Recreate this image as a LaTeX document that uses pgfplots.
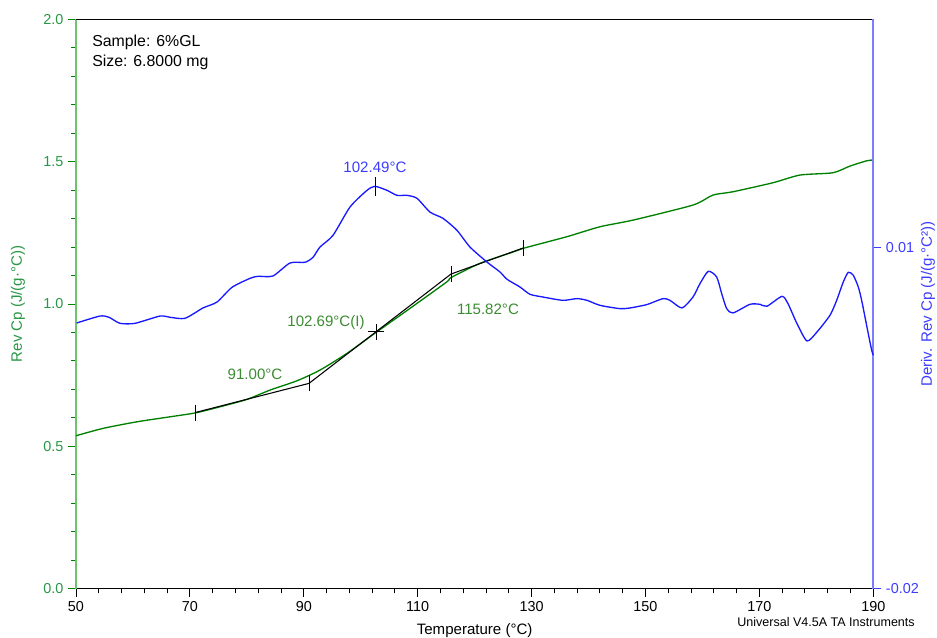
\documentclass[border=0pt]{standalone}
\usepackage{pgfplots}
\pgfplotsset{compat=1.18}
\usepackage{fontspec}
\setmainfont{Liberation Sans}
\definecolor{cpgreen}{RGB}{0,128,0}
\definecolor{spinegreen}{RGB}{110,195,110}
\definecolor{labgreen}{RGB}{40,150,70}
\definecolor{annogreen}{RGB}{60,140,50}
\definecolor{dblue}{RGB}{25,25,255}
\definecolor{spineblue}{RGB}{125,125,255}
\definecolor{labblue}{RGB}{60,60,255}
\newcommand{\fa}{\fontsize{11.3}{13}\selectfont}
\newcommand{\ft}{\fontsize{10.8}{12}\selectfont}
\begin{document}
\begin{tikzpicture}
\useasboundingbox (-57pt,-36.4pt) rectangle (645.8pt,441.5pt);
\begin{axis}[
  scale only axis, width=598pt, height=427pt,
  at={(0,0)}, anchor=south west,
  xmin=50, xmax=190, ymin=0, ymax=2,
  axis x line*=bottom, axis y line*=left,
  clip=false,
  xtick={50,70,...,190}, minor x tick num=4,
  ytick={0,0.5,1,1.5,2}, minor y tick num=4,
  tick align=outside,
  major tick length=6pt, minor tick length=3.5pt,
  /pgf/number format/assume math mode=true,
  x axis line style={black, line width=0.9pt},
  y axis line style={spinegreen, line width=1.4pt},
  x tick style={black, line width=0.7pt},
  y tick style={cpgreen, line width=0.7pt},
  xticklabel style={font=\ft, black},
  yticklabel style={font=\ft, labgreen, /pgf/number format/.cd, fixed, fixed zerofill, precision=1},
  xlabel={Temperature (°C)},
  xlabel style={font=\fa, at={(axis description cs:0.5,-0.0729)}, anchor=center},
  ylabel={Rev Cp (J/(g·°C))},
  ylabel style={font=\fa, labgreen, at={(axis description cs:-0.0727,0.5)}, anchor=center, rotate=0},
]
\draw[black, line width=0.9pt] (rel axis cs:0,1) -- (rel axis cs:1,1);
% Rev Cp
\addplot[cpgreen, line width=1pt, smooth, tension=0.4] coordinates {
(50,0.537) (54.74,0.5629) (60.71,0.5861) (66.51,0.6036) (71.07,0.6177)
(75.29,0.6388) (80.03,0.6648) (84.07,0.6975) (88.81,0.7302) (92.84,0.7677)
(97.58,0.8264) (102.85,0.9023) (108.65,0.9845) (115.14,1.0780) (115.85,1.0928)
(120.94,1.1427) (126.73,1.1824) (128.49,1.1953) (136.16,1.2361) (142.01,1.2713)
(147.86,1.2948) (158.34,1.3475) (161.85,1.3826) (165.36,1.3942) (172.39,1.4259)
(177.13,1.4529) (182.92,1.4610) (185.91,1.4845) (188.89,1.5032) (190,1.5056)
};
% Tg construction
\addplot[black, line width=0.8pt] coordinates {
(70.90,0.6184) (90.91,0.7210) (115.85,1.1051) (128.49,1.1964)
};
\addplot[black, only marks, mark=|, mark size=6pt, mark options={line width=0.7pt}] coordinates {
(70.90,0.6184) (90.91,0.7210) (115.85,1.1051) (128.49,1.1964)
};
\addplot[black, only marks, mark=+, mark size=6pt, mark options={line width=0.8pt}] coordinates {
(102.69,0.9024)
};
\node[font=\fa, annogreen] at (axis cs:81.43,0.7537) {91.00°C};
\node[font=\fa, annogreen] at (axis cs:93.90,0.9329) {102.69°C(I)};
\node[font=\fa, annogreen] at (axis cs:122.34,0.9821) {115.82°C};
\node[font=\fa, labblue] at (axis cs:102.50,1.481) {102.49°C};
\node[font=\fontsize{11.9}{15}\selectfont, anchor=north west, align=left, inner sep=0pt, black] at (axis description cs:0.0201,0.9724) {Sample: 6\%GL\\Size: 6.8000 mg};
\node[font=\fontsize{9.4}{11}\selectfont, anchor=east, inner sep=0pt, black] at (axis description cs:1.0523,-0.0589) {Universal V4.5A TA Instruments};
\end{axis}
\begin{axis}[
  scale only axis, width=598pt, height=427pt,
  at={(0,0)}, anchor=south west,
  xmin=50, xmax=190, ymin=-0.02, ymax=0.03,
  axis x line=none, axis y line*=right,
  clip=false,
  ytick={-0.02,0.01}, scaled y ticks=false,
  tick align=outside,
  major tick length=6pt,
  /pgf/number format/assume math mode=true,
  y axis line style={spineblue, line width=1.4pt},
  y tick style={labblue, line width=0.7pt},
  yticklabel style={font=\ft, labblue, /pgf/number format/.cd, fixed, fixed zerofill, precision=2},
  ylabel={Deriv. Rev Cp (J/(g·°C²))},
  ylabel style={font=\fa, labblue, at={(axis description cs:1.0686,0.5)}, anchor=center, rotate=0},
]
\addplot[dblue, line width=1pt, smooth, tension=0.4] coordinates {
(50.12,0.00333) (54.21,0.00394) (55.79,0.00383) (57.73,0.00330) (60.36,0.00330)
(64.75,0.00394) (66.51,0.00383) (69.14,0.00374) (72.30,0.00465) (74.76,0.00517)
(77.39,0.00646) (80.55,0.00725) (81.96,0.00743) (84.59,0.00746) (87.58,0.00860)
(90.21,0.00866) (91.62,0.00910) (92.84,0.01000) (95.13,0.01103) (98.11,0.01351)
(101.10,0.01498) (102.50,0.01533) (104.61,0.01498) (106.37,0.01454) (108.12,0.01454)
(109.88,0.01428) (112.16,0.01307) (114.44,0.01252) (116.90,0.01147) (119.18,0.01000)
(122.17,0.00868) (124.45,0.00781) (125.68,0.00717) (127.96,0.00649) (129.72,0.00585)
(132.00,0.00561) (135.51,0.00532) (137.97,0.00547) (139.73,0.00532) (142.01,0.00488)
(145.52,0.00459) (147.28,0.00465) (150.26,0.00495) (153.07,0.00547) (154.30,0.00532)
(156.41,0.00465) (158.34,0.00561) (159.57,0.00679) (161.03,0.00787) (162.50,0.00737)
(163.38,0.00591) (164.26,0.00459) (165.36,0.00421) (168.35,0.00497) (170.10,0.00497)
(171.33,0.00480) (173.97,0.00567) (175.02,0.00503) (176.60,0.00328) (178.36,0.00175)
(180.11,0.00254) (182.40,0.00401) (183.57,0.00532) (184.73,0.00693) (185.61,0.00778)
(186.49,0.00752) (187.37,0.00649) (187.96,0.00532) (188.54,0.00386) (189.12,0.00240)
(189.72,0.00093) (190.0,0.00050)
};
\addplot[black, only marks, mark=|, mark size=7pt, mark options={line width=0.7pt}] coordinates {
(102.50,0.01533)
};
\end{axis}
\end{tikzpicture}
\end{document}
